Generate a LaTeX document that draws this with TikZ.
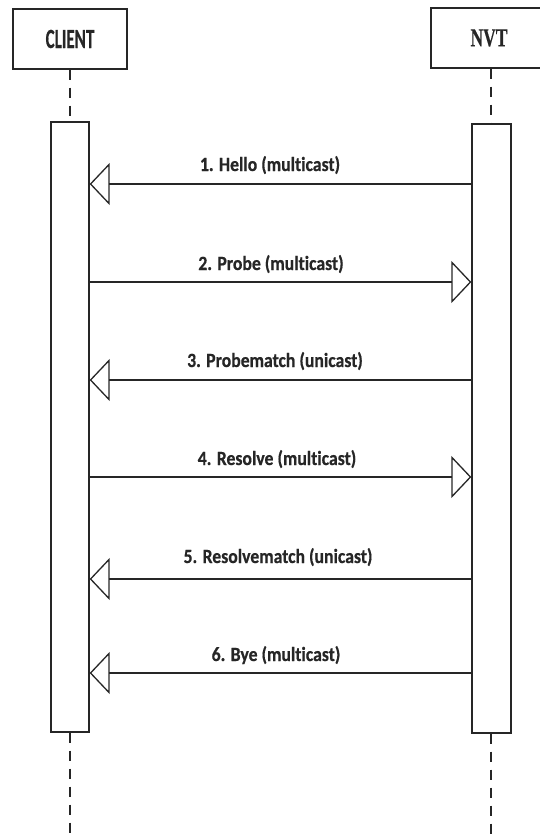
\documentclass[tikz,border=0pt]{standalone}
\usepackage{fontspec}
\usepackage{graphicx}
\usetikzlibrary{arrows.meta}
\newfontfamily\msgfont{Carlito Bold}[RawFeature={-liga}, FakeBold=0.6]
\newfontfamily\hdserif{Liberation Serif Bold}[FakeBold=0.5]
\definecolor{ink}{HTML}{262626}
\begin{document}
\begin{tikzpicture}[x=1pt,y=-1pt,
  ink/.style={draw=ink, line width=1.3pt},
  header/.style={ink, fill=white, minimum height=60pt, inner sep=0pt},
  actbox/.style={ink, fill=white, minimum width=38pt, inner sep=0pt},
  lifeline/.style={draw=ink, line width=1.2pt, dash pattern=on 10pt off 8pt},
  msg/.style={draw=ink, line width=1.3pt,
    -{Triangle[open, length=20pt, width=42pt, line width=1.3pt]}},
  msglabel/.style={anchor=base, inner sep=0pt, text=ink,
    font=\msgfont\fontsize{17.7}{20}\selectfont}]
  \useasboundingbox (0,0) rectangle (540,839);

  % participants
  \node[header, minimum width=114pt] (client) at (70,39)
    {\scalebox{0.92}[1.5]{\msgfont\fontsize{18.5}{20}\selectfont\color{ink}CLIENT}};
  \node[header, minimum width=120pt] (nvt) at (491,38)
    {\hspace{-4pt}\scalebox{1}[1.47]{\hdserif\fontsize{17.5}{20}\selectfont\color{ink}NVT}};

  % lifeline ends
  \coordinate (cEnd) at (70,839);
  \coordinate (nEnd) at (491,839);

  % activation bars
  \node[actbox, minimum height=610pt] (ca) at (70,427) {};
  \node[actbox, minimum width=39pt, minimum height=609pt] (na) at (491.5,428.5) {};

  % dashed lifelines
  \draw[lifeline] (client.south) -- (ca.north);
  \draw[lifeline] (nvt.south) -- (na.north -| nvt.south);
  \draw[lifeline] (ca.south) -- (cEnd);
  \draw[lifeline] (na.south -| nEnd) -- (nEnd);

  % message rows
  \coordinate (m1) at (0,184);
  \coordinate (m2) at (0,282);
  \coordinate (m3) at (0,380);
  \coordinate (m4) at (0,477);
  \coordinate (m5) at (0,579);
  \coordinate (m6) at (0,673);

  % messages
  \draw[msg] (na.west |- m1) -- (ca.east |- m1);
  \draw[msg] (ca.east |- m2) -- (na.west |- m2);
  \draw[msg] (na.west |- m3) -- (ca.east |- m3);
  \draw[msg] (ca.east |- m4) -- (na.west |- m4);
  \draw[msg] (na.west |- m5) -- (ca.east |- m5);
  \draw[msg] (na.west |- m6) -- (ca.east |- m6);

  % message labels
  \node[msglabel] (l1) at (270,171) {\scalebox{1}[1.14]{1. Hello (multicast)}};
  \node[msglabel] (l2) at (271,270) {\scalebox{1}[1.14]{2. Probe (multicast)}};
  \node[msglabel] (l3) at (275,367) {\scalebox{1}[1.14]{3. Probematch (unicast)}};
  \node[msglabel] (l4) at (277,465) {\scalebox{1}[1.14]{4. Resolve (multicast)}};
  \node[msglabel] (l5) at (278,563) {\scalebox{1}[1.14]{5. Resolvematch (unicast)}};
  \node[msglabel] (l6) at (276,661) {\scalebox{1}[1.14]{6. Bye (multicast)}};
\end{tikzpicture}
\end{document}
